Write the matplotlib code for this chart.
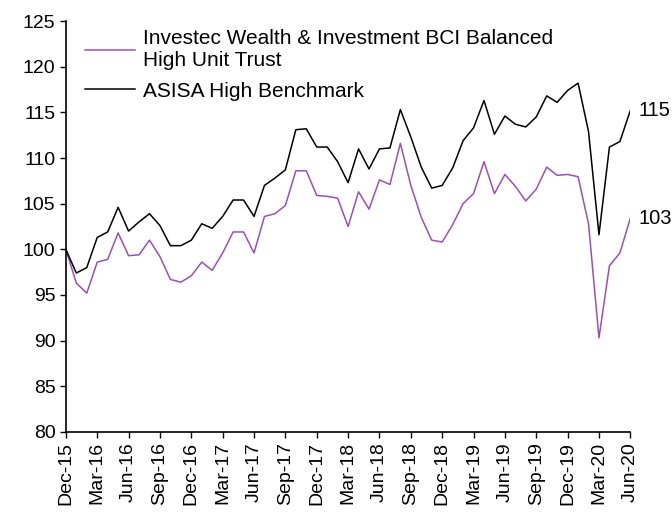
import matplotlib
matplotlib.use("Agg")
import matplotlib.pyplot as plt
import numpy as np
import pandas as pd

plt.rcParams["font.family"] = ["Liberation Sans", "DejaVu Sans"]

months = pd.date_range("2015-12-01", "2020-06-01", freq="MS")
labels = [d.strftime("%b-%y") for d in months]

fund = [100, 96.3, 95.2, 98.6, 98.9, 101.8, 99.3, 99.4, 101.0, 99.2, 96.7, 96.4,
        97.1, 98.6, 97.7, 99.6, 101.9, 101.9, 99.6, 103.6, 103.9, 104.8, 108.6, 108.6,
        105.9, 105.8, 105.6, 102.5, 106.3, 104.4, 107.6, 107.1, 111.6, 107.0, 103.5, 101.0,
        100.8, 102.7, 105.0, 106.1, 109.6, 106.1, 108.2, 106.9, 105.3, 106.6, 109.0, 108.1,
        108.2, 107.95, 102.8, 90.3, 98.2, 99.6, 103.4]
bench = [100, 97.4, 98.0, 101.3, 101.9, 104.6, 102.0, 103.0, 103.9, 102.6, 100.4, 100.4,
         101.0, 102.8, 102.3, 103.6, 105.4, 105.4, 103.6, 107.0, 107.8, 108.7, 113.1, 113.2,
         111.2, 111.2, 109.6, 107.3, 111.0, 108.8, 111.0, 111.1, 115.3, 112.3, 109.0, 106.7,
         107.0, 108.9, 111.9, 113.3, 116.3, 112.6, 114.6, 113.7, 113.4, 114.5, 116.8, 116.1,
         117.4, 118.2, 112.9, 101.6, 111.2, 111.8, 115.2]

x = np.arange(len(months))

fig = plt.figure(figsize=(6.72, 5.13), dpi=100)
ax = fig.add_axes([0.098, 0.158, 0.84, 0.801])

ax.plot(x, fund, color="#9B4FBB", lw=1.1,
        label="Investec Wealth & Investment BCI Balanced\nHigh Unit Trust")
ax.plot(x, bench, color="black", lw=1.1, label="ASISA High Benchmark")

ax.text(x[-1] + 0.8, bench[-1], "%d" % round(bench[-1]), va="center", ha="left", fontsize=14.5)
ax.text(x[-1] + 0.8, fund[-1], "%d" % round(fund[-1]), va="center", ha="left", fontsize=14.5)

ax.set_xlim(0, len(x) - 1)
ax.set_ylim(80, 125)
ax.set_yticks(range(80, 126, 5))
ax.set_xticks(x[::3])
ax.set_xticklabels(labels[::3], rotation=90)
ax.tick_params(axis="both", labelsize=14, direction="out", length=4, width=1)
for s in ["top", "right"]:
    ax.spines[s].set_visible(False)
for s in ["left", "bottom"]:
    ax.spines[s].set_linewidth(1.2)

leg = ax.legend(loc="upper left", bbox_to_anchor=(0.034, 0.98), frameon=False,
                fontsize=15, handlelength=2.4, handletextpad=0.4, labelspacing=0.55,
                borderpad=0, borderaxespad=0)
leg.get_texts()[0].set_linespacing(1.2)

fig.savefig("out.png", dpi=100)
